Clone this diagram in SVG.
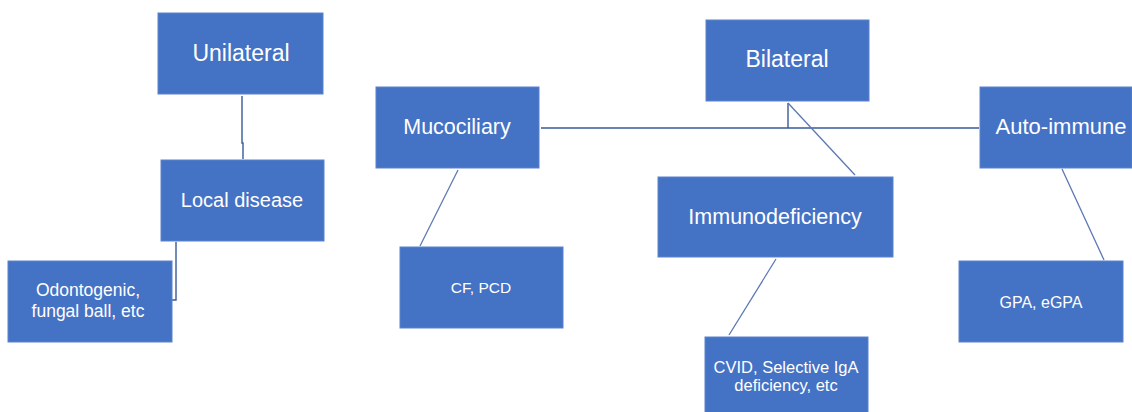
<svg xmlns="http://www.w3.org/2000/svg" width="1132" height="412" viewBox="0 0 1132 412">
<style>
.box{fill:#4472C4;stroke:#5a83cc;stroke-width:1}
.t{fill:#ffffff;font-family:"Liberation Sans",Arial,sans-serif;text-anchor:middle}
.c{fill:none;stroke:#3a5a99;stroke-width:1.4}
.d{fill:none;stroke:#5b78b4;stroke-width:1.3}
</style>
<rect width="1132" height="412" fill="#ffffff"/>
<g id="connectors">
<path class="c" d="M242 96 V143 H243 V159"/>
<path class="c" d="M176 242 V300 H172"/>
<path class="c" d="M541 128 H979"/>
<path class="c" d="M788 103 V128"/>
<path class="d" d="M788 103 L855 175"/>
<path class="d" d="M458 170 L420 246"/>
<path class="d" d="M776 259 L729 335"/>
<path class="d" d="M1062 169 L1104 260"/>
</g>
<g id="unilateral"><rect class="box" x="158" y="13" width="165" height="81"/><text class="t" x="241" y="61" font-size="23">Unilateral</text></g>
<g id="local-disease"><rect class="box" x="161" y="160" width="163" height="81"/><text class="t" x="242" y="207" font-size="20">Local disease</text></g>
<g id="odontogenic"><rect class="box" x="8" y="261" width="164" height="81"/><text class="t" x="88" y="296" font-size="17.5">Odontogenic,</text><text class="t" x="88" y="317" font-size="17.5">fungal ball, etc</text></g>
<g id="mucociliary"><rect class="box" x="376" y="87" width="163" height="81"/><text class="t" x="457" y="134" font-size="21.5">Mucociliary</text></g>
<g id="cf-pcd"><rect class="box" x="400" y="247" width="163" height="81"/><text class="t" x="481" y="293" font-size="15.5">CF, PCD</text></g>
<g id="bilateral"><rect class="box" x="706" y="20" width="163" height="81"/><text class="t" x="787" y="67" font-size="23">Bilateral</text></g>
<g id="immunodeficiency"><rect class="box" x="658" y="177" width="235" height="80"/><text class="t" x="775" y="224" font-size="21.5">Immunodeficiency</text></g>
<g id="cvid"><rect class="box" x="705" y="337" width="163" height="90"/><text class="t" x="786" y="373" font-size="16.5">CVID, Selective IgA</text><text class="t" x="786" y="391" font-size="16.5">deficiency, etc</text></g>
<g id="auto-immune"><rect class="box" x="980" y="87" width="152" height="81"/><text class="t" x="1061" y="134" font-size="22">Auto-immune</text></g>
<g id="gpa"><rect class="box" x="959" y="261" width="164" height="81"/><text class="t" x="1041" y="308" font-size="16">GPA, eGPA</text></g>
</svg>
